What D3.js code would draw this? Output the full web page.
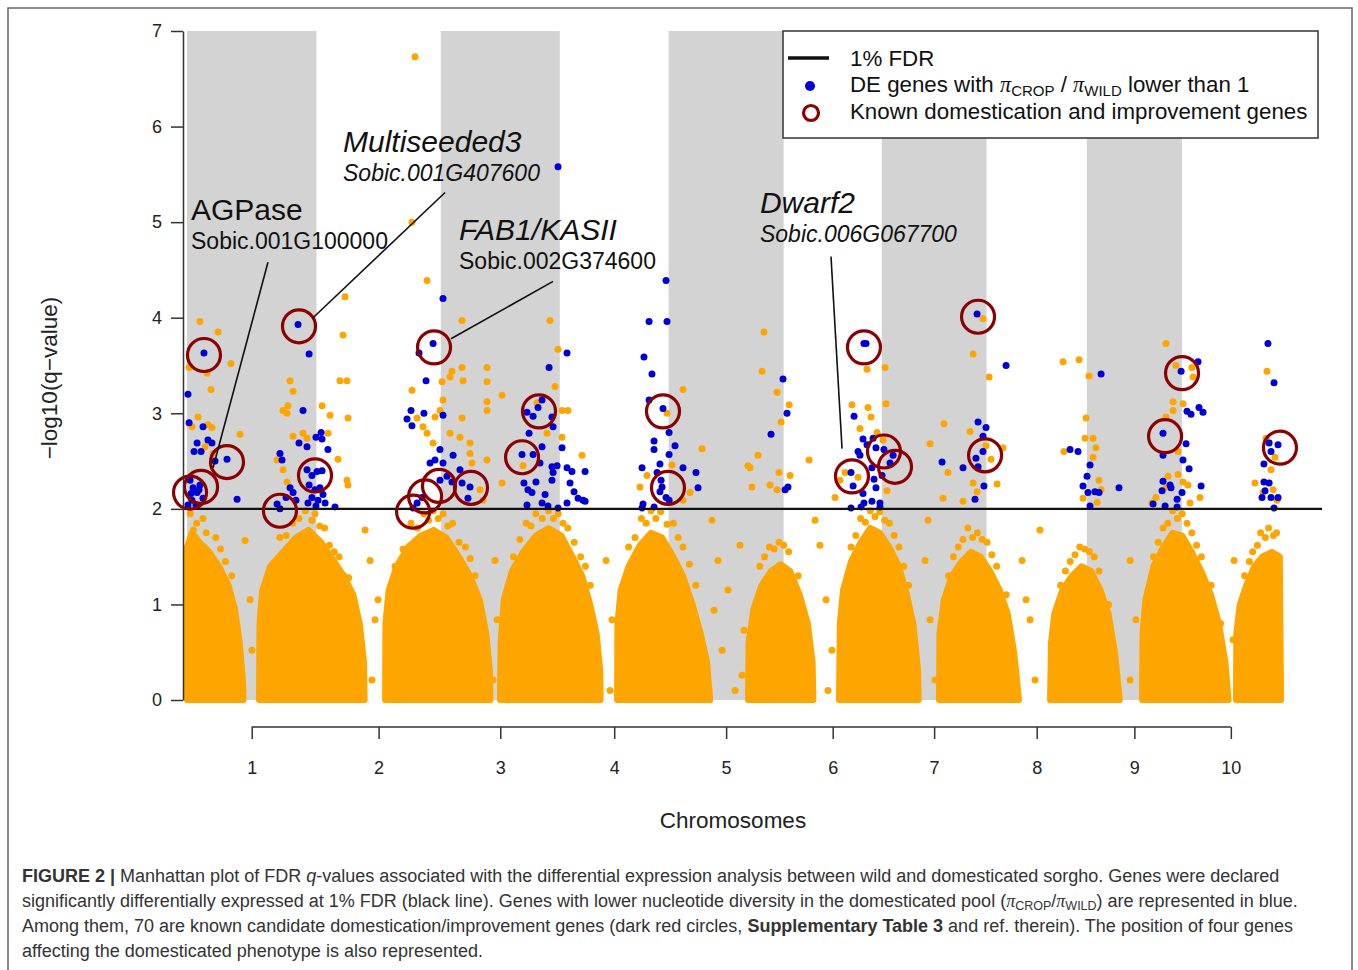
<!DOCTYPE html>
<html>
<head>
<meta charset="utf-8">
<script src="https://cdn.jsdelivr.net/npm/d3@7"></script>
<style>
  body { margin: 0; background: #fff; }
  svg { display: block; font-family: 'Liberation Sans', Arial, sans-serif; }
</style>
</head>
<body>
<script>
// chromosome lengths (Mb), sorghum v3
const chromLen = [80.9, 77.7, 74.4, 68.0, 71.9, 61.3, 65.5, 62.7, 59.4, 61.2];
const chromNames = ['1', '2', '3', '4', '5', '6', '7', '8', '9', '10'];
const yTicks = [0, 1, 2, 3, 4, 5, 6, 7];
const fdrLevel = 2;

// dense body of non significant genes: outline [cumulative Mb, -log10(q)]
const denseBody = [
  [[0, 0], [0, 1.6], [3, 1.75], [8, 1.65], [14, 1.55], [20, 1.4], [26, 1.2], [30, 0.95], [33, 0.6], [35, 0.2], [35.3, 0]],
  [[45, 0], [45.3, 0.8], [47, 1.15], [52, 1.4], [60, 1.55], [68, 1.7], [76, 1.78], [84, 1.65], [92, 1.45], [98, 1.3], [104, 1.1], [108, 0.8], [110.6, 0.4], [111, 0]],
  [[123.8, 0], [124, 0.8], [126, 1.15], [131, 1.4], [138, 1.6], [146, 1.72], [154, 1.78], [162, 1.7], [170, 1.5], [177, 1.3], [183, 1.05], [187, 0.7], [189.4, 0.3], [189.6, 0]],
  [[195.6, 0], [196, 0.6], [198, 1.05], [203, 1.35], [210, 1.55], [218, 1.72], [226, 1.8], [234, 1.72], [241, 1.5], [247, 1.3], [252, 1.0], [256, 0.7], [258.3, 0.3], [258.5, 0]],
  [[268.8, 0], [269, 0.8], [271, 1.15], [276, 1.4], [283, 1.62], [290, 1.75], [297, 1.7], [304, 1.5], [310, 1.3], [316, 1.0], [321, 0.7], [325, 0.4], [327, 0]],
  [[350.6, 0], [351, 0.6], [354, 0.95], [359, 1.2], [365, 1.35], [371, 1.42], [377, 1.35], [383, 1.1], [388, 0.8], [391, 0.4], [391.5, 0]],
  [[407.5, 0], [408, 0.8], [410, 1.15], [415, 1.45], [421, 1.65], [427, 1.8], [433, 1.75], [439, 1.6], [445, 1.4], [450, 1.1], [454, 0.8], [457, 0.3], [457.3, 0]],
  [[470, 0], [470.3, 0.7], [473, 1.05], [478, 1.3], [484, 1.45], [490, 1.55], [496, 1.5], [502, 1.35], [508, 1.15], [513, 0.9], [517, 0.5], [520, 0]],
  [[539.4, 0], [540, 0.6], [542, 0.9], [547, 1.15], [553, 1.3], [559, 1.4], [565, 1.35], [571, 1.15], [576, 0.9], [580, 0.5], [583, 0]],
  [[596.9, 0], [597.2, 0.7], [599, 1.05], [604, 1.4], [610, 1.6], [616, 1.75], [622, 1.72], [628, 1.55], [634, 1.35], [640, 1.1], [645, 0.8], [649, 0.4], [651, 0]],
  [[655.6, 0], [655.8, 0.7], [658, 1.0], [662, 1.2], [667, 1.4], [672, 1.5], [678, 1.55], [683, 1.5], [683.8, 0]]
];

// scattered non significant genes around the dense body
const orangeScatter = [
  [2, 1.95], [6, 1.85], [10, 1.9], [18, 1.7], [24, 1.45], [4, 1.78], [12, 1.75], [21, 1.58], [28, 1.3], [36.3, 1.67], [39.4, 1.05], [40.6, 0.52], [35, 0.1],
  [58, 1.7], [66, 1.85], [74, 1.98], [80, 1.95], [86, 1.8], [92, 1.55], [98, 1.3], [104, 1.0], [62, 1.72], [70, 1.9], [78, 1.88], [83, 1.82], [89, 1.62], [95, 1.5], [101, 1.28],
  [114.4, 1.46], [117.5, 0.84], [115.6, 0.21], [111.3, 1.78], [119.4, 1.05],
  [130, 1.4], [140, 1.85], [148, 1.95], [154, 1.98], [160, 1.95], [166, 1.85], [174, 1.6], [180, 1.3], [135, 1.58], [144, 1.8], [151, 1.88], [157, 1.9], [163, 1.82], [170, 1.65], [177, 1.48],
  [192.5, 1.46], [193.8, 0.84], [191.3, 0.21],
  [204, 1.5], [212, 1.85], [218, 1.95], [226, 1.98], [232, 1.95], [238, 1.8], [246, 1.5], [252, 1.2], [208, 1.68], [215, 1.82], [222, 1.9], [229, 1.9], [235, 1.85], [242, 1.65], [249, 1.4],
  [261.9, 1.46], [265.6, 0.84], [264.4, 0.1],
  [276, 1.6], [284, 1.9], [290, 1.98], [296, 1.97], [304, 1.85], [310, 1.6], [318, 1.2], [280, 1.7], [287, 1.85], [293, 1.9], [300, 1.84], [307, 1.7], [314, 1.42],
  [328.1, 1.88], [331.9, 1.46], [329.4, 0.94], [334.4, 0.52], [338.1, 1.15], [342.5, 0.1], [345.6, 1.62], [348.1, 0.73], [346.9, 0.26],
  [358, 1.4], [364, 1.6], [370, 1.65], [376, 1.55], [382, 1.3], [361, 1.5], [367, 1.58], [373, 1.62],
  [395.6, 1.62], [399.4, 1.05], [403.1, 0.52], [400.6, 0.1], [392.5, 1.88],
  [415, 1.6], [421, 1.9], [427, 1.98], [433, 1.97], [439, 1.85], [445, 1.6], [451, 1.2], [418, 1.72], [424, 1.86], [430, 1.92], [436, 1.88], [442, 1.72], [448, 1.4],
  [461.3, 1.46], [464.4, 0.84], [467.5, 0.21], [463.1, 1.88],
  [476, 1.3], [482, 1.6], [488, 1.8], [494, 1.75], [500, 1.65], [506, 1.4], [512, 1.1], [479, 1.5], [485, 1.68], [491, 1.7], [497, 1.68], [503, 1.52],
  [521.9, 1.46], [526.9, 0.84], [530, 0.21], [524.4, 1.05], [533.1, 1.78],
  [546, 1.2], [552, 1.45], [558, 1.6], [564, 1.55], [570, 1.35], [576, 1.0], [549, 1.35], [555, 1.52], [561, 1.58], [567, 1.5],
  [589.4, 1.46], [593.1, 0.84], [589.4, 0.21],
  [604, 1.5], [610, 1.8], [616, 1.98], [622, 1.95], [628, 1.75], [634, 1.5], [640, 1.2], [646, 0.8], [607, 1.65], [613, 1.85], [619, 1.9], [625, 1.85], [631, 1.62],
  [654.4, 1.46], [653.8, 0.63],
  [661, 1.3], [666, 1.55], [671, 1.75], [676, 1.8], [681, 1.75], [664, 1.45], [669, 1.62], [674, 1.7], [679, 1.72]
];

// DE genes (orange), above the FDR line
const orangeHits = [
  [142.5, 6.73], [140.6, 5.00], [98.8, 4.22], [150, 4.39], [226.9, 3.97], [171.9, 3.97], [8.1, 3.96], [19.4, 3.85],
  [1.3, 3.48], [12.5, 3.42], [27.5, 3.52], [15, 3.25], [6.9, 2.96], [3.1, 2.86], [13.1, 2.88], [15.6, 2.85], [33.1, 2.78], [11.3, 2.65], [16.3, 2.58],
  [64.4, 3.34], [66.3, 3.23], [60, 3.03], [62.5, 3.00], [63.1, 3.08], [72.5, 2.79], [75, 2.74], [66.3, 2.76], [84.4, 3.08], [89.4, 2.98], [88.1, 2.79],
  [97.5, 3.82], [95.6, 3.34], [100, 3.34], [100.6, 2.95], [94.4, 2.52], [100, 2.30], [100.6, 2.25], [56.3, 2.51], [62.5, 2.28], [60, 2.41],
  [140.6, 3.24], [143.8, 2.95], [147.5, 2.86], [150, 2.79], [153.8, 2.69], [159.4, 3.33], [164.4, 3.38], [165.6, 3.44], [171.9, 3.48], [172.5, 3.34],
  [187.5, 3.48], [187.5, 3.33], [187.5, 3.12], [187.5, 3.03], [164.4, 2.79], [170.6, 2.75], [176.9, 2.69], [160, 3.14], [158.1, 3.03], [171.9, 2.95],
  [178.1, 2.48], [176.9, 2.58], [183.1, 2.20], [185, 2.09], [155, 2.96],
  [196.9, 3.19], [231.9, 3.67], [230, 3.28], [234.4, 3.03], [238.1, 3.03], [234.4, 2.75], [246.9, 2.56], [187.5, 2.51], [196.9, 2.27], [218.8, 3.11], [225, 2.79], [210, 2.45],
  [310, 3.25], [321.9, 2.63], [283.1, 2.23], [287.5, 2.35], [314.4, 2.17], [303.1, 2.46], [350.6, 2.45], [300, 3.00], [310, 2.09],
  [360.6, 3.85], [359.4, 3.44], [368.8, 3.22], [376.3, 3.09], [371.3, 2.91], [356.9, 2.56], [351.9, 2.43], [370, 2.38], [376.9, 2.35], [364.4, 2.25], [368.8, 2.20], [353.1, 2.23], [388.8, 2.51],
  [415.6, 3.09], [425.6, 3.06], [427.5, 2.96], [436.9, 3.10], [425, 3.46], [436.3, 3.48], [420.6, 2.84], [431.3, 2.80], [435, 2.72], [411.3, 2.38], [419.4, 2.33], [408.1, 2.30], [437.5, 2.19], [405, 2.12],
  [464.4, 2.68], [473.1, 2.89], [475.6, 2.38], [472.5, 2.11], [485, 2.08], [491.3, 3.62], [497.5, 3.99], [501.3, 3.38], [489.4, 2.81], [499.4, 2.66], [502.5, 2.52], [510, 2.64], [506.3, 2.26], [491.3, 2.27], [493.8, 2.18],
  [547.5, 3.54], [557.5, 3.56], [563.8, 3.39], [561.9, 2.95], [561.3, 2.74], [566.3, 2.74], [568.1, 2.64], [548.1, 2.60], [566.3, 2.54], [570, 2.30], [571.3, 2.20], [560, 2.11], [568.8, 2.07],
  [611.9, 3.73], [618.1, 3.50], [628.1, 3.48], [628.8, 3.38], [616.3, 3.12], [616.3, 3.03], [622.5, 3.10], [611.9, 2.96], [619.4, 2.60], [613.1, 2.34], [619.4, 2.36], [622.5, 2.28], [625.6, 2.25],
  [605.6, 2.12], [603.1, 2.06], [626.9, 2.06], [633.1, 2.12], [611.9, 2.23],
  [675, 3.44], [674.4, 2.74], [680, 2.54], [677.5, 2.41], [667.5, 2.27], [678.8, 2.20], [681.3, 2.09], [672.5, 2.17]
];

// DE genes with pi_crop / pi_wild lower than 1 (blue)
const blueHits = [
  [10.6, 3.63], [0.6, 3.20], [1.3, 2.90], [10, 2.86], [13.1, 2.72], [15.6, 2.69], [6.3, 2.69], [4.4, 2.60], [8.8, 2.60], [25, 2.52], [31.3, 2.10], [17.5, 2.50],
  [1.9, 2.30], [3.8, 2.22], [6.3, 2.17], [8.1, 2.25], [10, 2.11], [3.1, 2.09], [0.6, 2.04], [5.6, 2.04], [7.5, 2.20], [2.5, 2.16],
  [69.4, 3.93], [76.3, 3.62], [72.5, 3.03], [70, 2.69], [75, 2.65], [80.6, 2.75], [83.8, 2.80], [84.4, 2.73], [88.1, 2.62], [58.1, 2.58], [59.4, 2.51],
  [75, 2.41], [78.1, 2.35], [81.3, 2.39], [84.4, 2.40], [76.3, 2.25], [80, 2.20], [83.1, 2.22], [78.1, 2.12], [81.9, 2.09], [85, 2.15], [75.6, 2.06], [80.6, 2.03],
  [86.3, 2.06], [92.5, 2.02], [56.3, 2.05], [58.1, 2.00], [64.4, 2.22], [66.3, 2.17], [61.9, 2.12], [68.1, 2.09],
  [153.8, 3.73], [145, 3.63], [149.4, 3.34], [140, 3.03], [137.5, 2.94], [140.6, 2.87], [148.1, 3.00], [160, 2.98], [158.1, 2.62], [166.3, 2.56], [151.9, 2.48],
  [155, 2.51], [160, 2.48], [162.5, 2.34], [165.6, 2.28], [170.6, 2.41], [176.9, 2.23], [175.6, 2.11], [141.3, 2.01], [143.8, 2.06], [146.9, 2.12], [158.1, 2.30], [171.9, 2.27],
  [231.9, 5.58], [160, 4.20], [237.5, 3.63], [226.3, 3.48], [221.9, 3.14], [219.4, 3.06], [212.5, 3.01], [216.3, 2.97], [228.1, 2.96], [228.8, 2.86], [213.8, 2.79],
  [221.9, 2.65], [234.4, 2.64], [209.4, 2.57], [216.3, 2.57], [220.6, 2.48], [228.1, 2.44], [231.3, 2.45], [237.5, 2.43], [240.6, 2.39], [248.8, 2.39], [228.8, 2.38],
  [210.6, 2.27], [218.1, 2.28], [228.1, 2.30], [239.4, 2.27], [213.1, 2.20], [215.6, 2.17], [223.8, 2.15], [241.9, 2.18], [244.4, 2.11], [247.5, 2.09], [248.8, 2.08],
  [212.5, 2.04], [221.9, 2.06], [225.6, 2.03], [231.9, 2.01], [237.5, 2.06],
  [299.4, 4.39], [288.8, 3.96], [300, 3.96], [285.6, 3.59], [290.6, 3.41], [288.8, 3.14], [297.5, 3.05], [301.3, 2.80], [305, 2.66], [291.9, 2.71], [291.9, 2.62],
  [301.3, 2.57], [295.6, 2.47], [284.4, 2.43], [293.8, 2.38], [310, 2.43], [318.1, 2.38], [319.4, 2.22], [296.3, 2.30], [296.9, 2.23], [299.4, 2.12], [295.6, 2.18],
  [301.3, 2.09], [285, 2.05], [284.4, 2.01], [291.9, 2.02],
  [372.5, 3.36], [375, 3.00], [365, 2.78], [373.8, 2.20], [375.6, 2.23],
  [423.1, 3.73], [424.4, 3.73], [416.9, 2.97], [422.5, 2.73], [428.8, 2.74], [425, 2.67], [419.4, 2.60], [420.6, 2.56], [430.6, 2.64], [435.6, 2.62], [439.4, 2.48],
  [441.3, 2.56], [415, 2.38], [428.1, 2.43], [434.4, 2.35], [416.3, 2.24], [429.4, 2.31], [430.6, 2.22], [422.5, 2.16], [428.1, 2.08], [423.1, 2.06], [433.1, 2.06],
  [415, 2.01], [421.3, 2.02], [433.1, 2.02],
  [471.9, 2.49], [485, 2.43], [493.8, 4.04], [511.9, 3.50], [494.4, 2.91], [499.4, 2.85], [497.5, 2.76], [497.5, 2.60], [493.1, 2.53], [494.4, 2.44], [498.1, 2.24], [492.5, 2.10],
  [571.3, 3.41], [551.9, 2.62], [556.9, 2.60], [564.4, 2.46], [562.5, 2.34], [560, 2.24], [563.1, 2.17], [567.5, 2.18], [570, 2.17], [564.4, 2.03], [582.5, 2.22],
  [621.3, 3.44], [631.9, 3.54], [625, 3.02], [627.5, 2.99], [632.5, 3.06], [635, 3.01], [610, 2.79], [610, 2.56], [624.4, 2.68], [622.5, 2.51], [626.3, 2.42],
  [633.8, 2.24], [610, 2.29], [614.4, 2.25], [615, 2.22], [609.4, 2.19], [621.9, 2.17], [618.8, 2.10], [603.8, 2.05], [611.3, 2.03], [618.8, 2.02],
  [675.6, 3.73], [679.4, 3.32], [676.3, 2.69], [681.9, 2.67], [677.5, 2.60], [673.1, 2.47], [673.1, 2.28], [676.3, 2.27], [673.8, 2.19], [677.5, 2.12], [681.9, 2.12],
  [671.9, 2.12], [679.4, 2.01]
];

// known domestication / improvement genes (dark red circles)
const knownGenes = [
  [10.6, 3.61], [25, 2.49], [8.8, 2.23], [1.9, 2.17], [70, 3.91], [80, 2.35], [58.1, 1.98], [154.4, 3.69], [141.3, 1.97], [148.8, 2.13],
  [157.5, 2.24], [177.5, 2.22], [220, 3.02], [209.4, 2.54], [297.5, 3.02], [300.6, 2.22], [423.1, 3.69], [435.6, 2.60], [442.5, 2.44],
  [415.6, 2.34], [494.4, 4.01], [498.8, 2.56], [621.9, 3.42], [611.3, 2.76], [683.1, 2.64]
];

// labelled genes: label anchor and leader line, in data units
const geneLabels = [
  { name: 'AGPase', id: 'Sobic.001G100000', italicName: false, italicId: false, at: [2.5, 5.02], from: [50.6, 4.58], to: [16.3, 2.43] },
  { name: 'Multiseeded3', id: 'Sobic.001G407600', italicName: true, italicId: true, at: [97.5, 5.73], from: [161.3, 5.31], to: [78.8, 4.0] },
  { name: 'FAB1/KASII', id: 'Sobic.002G374600', italicName: true, italicId: false, at: [170, 4.81], from: [228.8, 4.38], to: [165, 3.78] },
  { name: 'Dwarf2', id: 'Sobic.006G067700', italicName: true, italicId: true, at: [358.1, 5.10], from: [402.5, 4.64], to: [409.4, 2.63] }
];

const colors = { orange: '#ffa500', blue: '#0000d6', red: '#8b0000', band: '#d3d3d3', axis: '#333' };

const width = 1358;
const height = 970;

const svg = d3.select('body').append('svg')
  .attr('width', width)
  .attr('height', height);

// outer frame
svg.append('rect')
  .attr('x', 8).attr('y', 8)
  .attr('width', 1344).attr('height', 990)
  .attr('fill', 'none')
  .attr('stroke', '#666')
  .attr('stroke-width', 1.5);

const chromStart = chromLen.map((d, i) => d3.sum(chromLen.slice(0, i)));
const chromMid = chromStart.map((d, i) => d + chromLen[i] / 2);
const genomeLen = d3.sum(chromLen);

const x = d3.scaleLinear()
  .domain([0, genomeLen])
  .range([187, 187 + genomeLen * 1.6]);

const y = d3.scaleLinear()
  .domain([0, 7])
  .range([700, 31]);

const plotLeft = 183;
const plotRight = 1322;

// alternating chromosome bands
svg.append('g')
  .selectAll('rect')
  .data(chromLen.map((d, i) => [chromStart[i], chromStart[i] + d]).filter((d, i) => i % 2 === 0))
  .join('rect')
  .attr('x', d => x(d[0]))
  .attr('width', d => x(d[1]) - x(d[0]))
  .attr('y', y(7))
  .attr('height', y(0) - y(7))
  .attr('fill', colors.band);

// dense body of genes
const area = d3.area()
  .x(d => x(d[0]))
  .y0(y(0))
  .y1(d => y(d[1]));

svg.append('g')
  .selectAll('path')
  .data(denseBody)
  .join('path')
  .attr('d', area)
  .attr('fill', colors.orange)
  .attr('stroke', colors.orange)
  .attr('stroke-width', 6)
  .attr('stroke-linejoin', 'round');

const dotR = 3.5;

svg.append('g')
  .selectAll('circle')
  .data(orangeScatter.concat(orangeHits))
  .join('circle')
  .attr('cx', d => x(d[0]))
  .attr('cy', d => y(d[1]))
  .attr('r', dotR)
  .attr('fill', colors.orange);

svg.append('g')
  .selectAll('circle')
  .data(blueHits)
  .join('circle')
  .attr('cx', d => x(d[0]))
  .attr('cy', d => y(d[1]))
  .attr('r', dotR)
  .attr('fill', colors.blue);

// 1% FDR line
svg.append('line')
  .attr('x1', plotLeft)
  .attr('x2', plotRight)
  .attr('y1', y(fdrLevel))
  .attr('y2', y(fdrLevel))
  .attr('stroke', '#111')
  .attr('stroke-width', 2.2);

svg.append('g')
  .selectAll('circle')
  .data(knownGenes)
  .join('circle')
  .attr('cx', d => x(d[0]))
  .attr('cy', d => y(d[1]))
  .attr('r', 16.5)
  .attr('fill', 'none')
  .attr('stroke', colors.red)
  .attr('stroke-width', 3.2);

// y axis
const yAxis = svg.append('g')
  .attr('transform', `translate(${plotLeft},0)`)
  .call(d3.axisLeft(y).tickValues(yTicks).tickFormat(d3.format('d')).tickSize(12).tickSizeOuter(0).tickPadding(9));

yAxis.select('.domain').attr('stroke', colors.axis).attr('stroke-width', 1.5);
yAxis.selectAll('.tick line').attr('stroke', colors.axis).attr('stroke-width', 1.5);
yAxis.selectAll('.tick text')
  .attr('font-size', 18)
  .attr('font-family', 'Liberation Sans, Arial, sans-serif')
  .attr('fill', '#222');

// x axis, ticks at chromosome centres
const xAxis = svg.append('g')
  .attr('transform', 'translate(0,727)')
  .call(d3.axisBottom(x).tickValues(chromMid).tickFormat((d, i) => chromNames[i]).tickSize(12).tickPadding(22));

xAxis.select('.domain').remove();
xAxis.append('line')
  .attr('x1', x(chromMid[0]))
  .attr('x2', x(chromMid[chromMid.length - 1]))
  .attr('stroke', colors.axis)
  .attr('stroke-width', 1.5);
xAxis.selectAll('.tick line').attr('stroke', colors.axis).attr('stroke-width', 1.5);
xAxis.selectAll('.tick text')
  .attr('font-size', 18)
  .attr('font-family', 'Liberation Sans, Arial, sans-serif')
  .attr('fill', '#222');

svg.append('text')
  .attr('x', 733)
  .attr('y', 828)
  .attr('text-anchor', 'middle')
  .attr('font-size', 22.5)
  .attr('fill', '#222')
  .text('Chromosomes');

svg.append('text')
  .attr('transform', 'translate(57,378) rotate(-90)')
  .attr('text-anchor', 'middle')
  .attr('font-size', 22.5)
  .attr('fill', '#222')
  .text('\u2212log10(q\u2212value)');

// gene labels
const labels = svg.append('g').selectAll('g')
  .data(geneLabels)
  .join('g');

labels.append('line')
  .attr('x1', d => x(d.from[0]))
  .attr('y1', d => y(d.from[1]))
  .attr('x2', d => x(d.to[0]))
  .attr('y2', d => y(d.to[1]))
  .attr('stroke', '#111')
  .attr('stroke-width', 1.6);

labels.append('text')
  .attr('x', d => x(d.at[0]))
  .attr('y', d => y(d.at[1]))
  .attr('font-size', 30)
  .attr('font-style', d => (d.italicName ? 'italic' : 'normal'))
  .attr('fill', '#111')
  .text(d => d.name);

labels.append('text')
  .attr('x', d => x(d.at[0]))
  .attr('y', d => y(d.at[1]) + 29)
  .attr('font-size', 23)
  .attr('font-style', d => (d.italicId ? 'italic' : 'normal'))
  .attr('fill', '#111')
  .text(d => d.id);

// legend
const legend = svg.append('g').attr('transform', 'translate(783,31)');

legend.append('rect')
  .attr('width', 535)
  .attr('height', 107)
  .attr('fill', '#fff')
  .attr('stroke', colors.axis)
  .attr('stroke-width', 1.5);

legend.append('line')
  .attr('x1', 5).attr('x2', 46)
  .attr('y1', 27).attr('y2', 27)
  .attr('stroke', '#111')
  .attr('stroke-width', 3.5);

legend.append('circle')
  .attr('cx', 27).attr('cy', 55)
  .attr('r', 5)
  .attr('fill', colors.blue);

legend.append('circle')
  .attr('cx', 28).attr('cy', 82)
  .attr('r', 7.5)
  .attr('fill', 'none')
  .attr('stroke', colors.red)
  .attr('stroke-width', 3.2);

const legendText = legend.append('g')
  .attr('font-size', 22.3)
  .attr('fill', '#111');

legendText.append('text').attr('x', 67).attr('y', 35).text('1% FDR');

const piFont = 'Liberation Serif, serif';

const piText = legendText.append('text').attr('x', 67).attr('y', 61);
piText.append('tspan').text('DE genes with ');
piText.append('tspan').attr('font-family', piFont).attr('font-style', 'italic').text('\u03c0');
piText.append('tspan').attr('font-size', 15).attr('dy', 4).text('CROP');
piText.append('tspan').attr('dy', -4).text(' / ');
piText.append('tspan').attr('font-family', piFont).attr('font-style', 'italic').text('\u03c0');
piText.append('tspan').attr('font-size', 15).attr('dy', 4).text('WILD');
piText.append('tspan').attr('dy', -4).text(' lower than 1');

legendText.append('text').attr('x', 67).attr('y', 88).text('Known domestication and improvement genes');

// caption
const caption = svg.append('g')
  .attr('font-size', 18)
  .attr('fill', '#333');

const cap1 = caption.append('text').attr('x', 22).attr('y', 882);
cap1.append('tspan').attr('font-weight', 'bold').text('FIGURE 2 | ');
cap1.append('tspan').text('Manhattan plot of FDR ');
cap1.append('tspan').attr('font-style', 'italic').text('q');
cap1.append('tspan').text('-values associated with the differential expression analysis between wild and domesticated sorgho. Genes were declared');

const cap2 = caption.append('text').attr('x', 22).attr('y', 907);
cap2.append('tspan').text('significantly differentially expressed at 1% FDR (black line). Genes with lower nucleotide diversity in the domesticated pool (');
cap2.append('tspan').attr('font-style', 'italic').attr('font-family', piFont).text('\u03c0');
cap2.append('tspan').attr('font-size', 12.5).attr('dy', 3).text('CROP');
cap2.append('tspan').attr('dy', -3).text('/');
cap2.append('tspan').attr('font-style', 'italic').attr('font-family', piFont).text('\u03c0');
cap2.append('tspan').attr('font-size', 12.5).attr('dy', 3).text('WILD');
cap2.append('tspan').attr('dy', -3).text(') are represented in blue.');

const cap3 = caption.append('text').attr('x', 22).attr('y', 932);
cap3.append('tspan').text('Among them, 70 are known candidate domestication/improvement genes (dark red circles, ');
cap3.append('tspan').attr('font-weight', 'bold').text('Supplementary Table 3');
cap3.append('tspan').text(' and ref. therein). The position of four genes');

caption.append('text').attr('x', 22).attr('y', 957)
  .text('affecting the domesticated phenotype is also represented.');
</script>
</body>
</html>
